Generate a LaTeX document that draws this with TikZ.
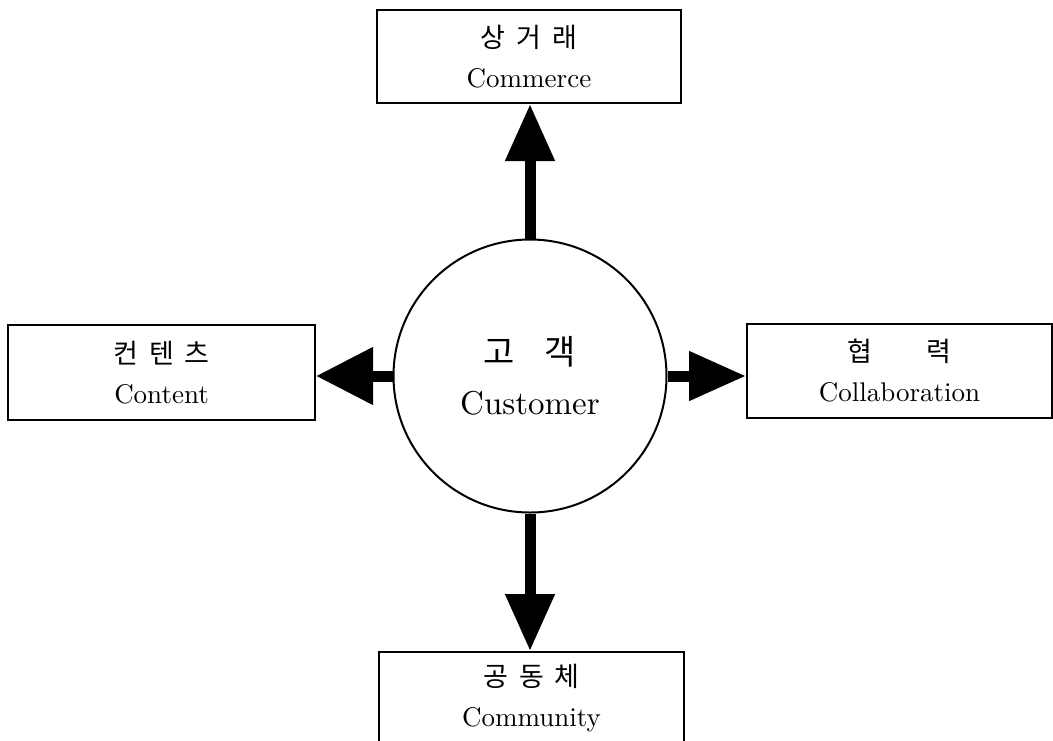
\documentclass[tikz,border=0pt]{standalone}
\usepackage{fontspec}
\setmainfont{lmroman10-regular.otf}
\newfontfamily\krfont{Noto Sans CJK KR}
\usetikzlibrary{arrows.meta}
% Korean line in the CJK family at a given size
\newcommand\kline[2][27pt]{{\krfont\fontsize{#1}{#1}\selectfont #2}}
% gap between Korean syllables
\newcommand\ks[1][11pt]{\hspace{#1}}

\begin{document}
\begin{tikzpicture}[x=1pt,y=-1pt,
  box/.style={draw, line width=2pt, minimum width=305pt, minimum height=93pt,
    inner sep=0pt, align=center, font=\fontsize{27pt}{40pt}\selectfont},
  hub/.style={circle, draw, line width=2pt, minimum size=273pt, inner sep=0pt,
    align=center, font=\fontsize{33pt}{50pt}\selectfont},
  flow/.style={line width=11pt, -{Triangle[length=57pt,width=#1]}},
  flow/.default=47pt]
\useasboundingbox (0,0) rectangle (1053,740);
\clip (0,0) rectangle (1053,740);

% centre: the customer
\node[hub] (cust) at (530,376) {\kline[34pt]{고\ks[30pt]객}\\Customer};

% the four surrounding functions
\node[box, minimum width=304pt] (commerce) at (529,56.5)
  {\kline{상\ks 거\ks 래}\\Commerce};
\node[box, minimum width=307pt, minimum height=95pt] (content) at (161.5,372.5)
  {\kline{컨\ks 텐\ks 츠}\\Content};
\node[box, minimum height=94pt] (collab) at (899.5,371)
  {\kline{협\ks[54pt]력}\\Collaboration};
\node[box] (community) at (531.5,698.5)
  {\kline{공\ks 동\ks 체}\\Community};

% arrows from the customer outwards
\draw[flow] (cust.north) -- (cust.north |- commerce.south);
\draw[flow] (cust.south) -- (cust.south |- community.north);
\draw[flow=55pt] (cust.west) -- (cust.west -| content.east);
\draw[flow] (cust.east) -- (cust.east -| collab.west);
\end{tikzpicture}
\end{document}
